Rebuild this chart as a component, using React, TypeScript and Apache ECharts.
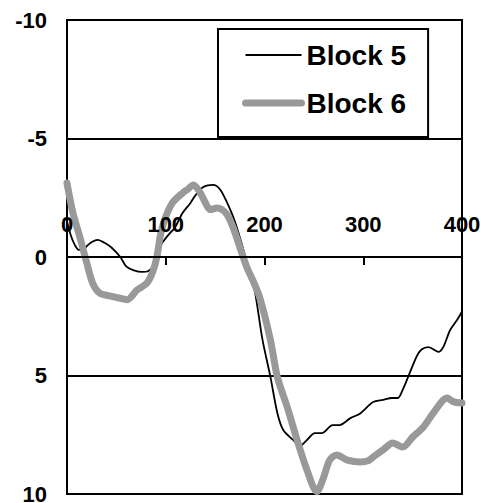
import React, { useEffect, useRef } from "react";
import * as echarts from "echarts";

const seriesNames = ["Block 5", "Block 6"];

const block5X = [0, 4, 8, 12, 17, 24, 31, 38, 45, 54, 60, 67, 76, 82, 87, 91, 97, 104, 109, 117, 125, 130, 138, 148, 155, 162, 170, 178, 184, 190, 198, 206, 213, 219, 229, 236, 243, 251, 258, 269, 276, 287, 297, 310, 320, 329, 335, 340, 347, 354, 359, 366, 376, 381, 388, 395, 400];
const block5Y = [-1.5, -0.9, -0.5, -0.3, -0.35, -0.6, -0.72, -0.6, -0.4, 0, 0.4, 0.55, 0.63, 0.6, 0.4, -0.2, -0.63, -1.0, -1.22, -1.86, -2.28, -2.6, -2.95, -3.04, -2.85, -2.3, -1.5, -0.4, 0.5, 1.4, 3.5, 5.06, 6.58, 7.3, 7.72, 7.97, 7.72, 7.43, 7.43, 7.09, 7.09, 6.8, 6.6, 6.12, 6.03, 5.95, 5.95, 5.6, 4.9, 4.2, 3.9, 3.8, 4.0, 3.8, 3.08, 2.66, 2.3];

const block6X = [0, 6, 13, 20, 26, 33, 44, 55, 61, 71, 81, 87, 91, 95, 100, 107, 117, 122, 128, 135, 140, 145, 152, 157, 162, 168, 175, 182, 188, 195, 206, 213, 223, 233, 243, 253, 259, 266, 273, 284, 297, 305, 310, 320, 330, 340, 350, 361, 371, 385, 391, 400];
const block6Y = [-3.12, -1.86, -0.84, 0.25, 1.1, 1.52, 1.65, 1.75, 1.8, 1.39, 1.1, 0.6, 0, -1.0, -1.7, -2.3, -2.7, -2.85, -3.04, -2.7, -2.3, -2.0, -2.07, -2.0, -1.8, -1.27, -0.42, 0.42, 0.97, 1.69, 3.5, 5.06, 6.33, 7.72, 8.99, 9.9, 9.4, 8.57, 8.35, 8.57, 8.65, 8.6, 8.44, 8.14, 7.85, 8.02, 7.6, 7.17, 6.58, 5.95, 6.1, 6.16];

const xTicks = { min: 0, max: 400, interval: 100 };
const yTicks = { min: -10, max: 10, interval: 5 };

const zip = (xs: number[], ys: number[]) => xs.map((x, i) => [x, ys[i]]);

const FONT = "Liberation Sans, Arial, sans-serif";

export default function App() {
  const ref = useRef<HTMLDivElement>(null);
  useEffect(() => {
    if (!ref.current) return;
    const chart = echarts.init(ref.current, undefined, { renderer: "svg" });
    chart.setOption({
      animation: false,
      backgroundColor: "#fff",
      grid: {
        left: 67,
        top: 20,
        right: 19,
        bottom: 9,
        show: true,
        borderColor: "#000",
        borderWidth: 2,
        containLabel: false,
        outerBoundsMode: "none",
      },
      legend: {
        orient: "vertical",
        left: 218,
        top: 29,
        padding: [12, 22, 20, 24],
        itemWidth: 56,
        itemHeight: 30,
        itemGap: 20,
        borderColor: "#000",
        borderWidth: 2,
        backgroundColor: "#fff",
        textStyle: { fontSize: 28, fontWeight: "bold", color: "#000", fontFamily: FONT },
        data: [
          { name: seriesNames[0], itemStyle: { opacity: 0 }, lineStyle: { width: 2, color: "#000" } },
          { name: seriesNames[1], itemStyle: { opacity: 0 }, lineStyle: { width: 7, color: "#999999", cap: "round" } },
        ],
      },
      xAxis: {
        type: "value",
        position: "bottom",
        z: 10,
        min: xTicks.min,
        max: xTicks.max,
        interval: xTicks.interval,
        axisLine: { show: true, onZero: true, lineStyle: { color: "#000", width: 2 } },
        axisTick: { show: true, inside: false, length: 8, lineStyle: { color: "#000", width: 2 } },
        axisLabel: { margin: -281, fontSize: 22, fontWeight: "bold", color: "#000", fontFamily: FONT },
        splitLine: { show: false },
      },
      yAxis: {
        type: "value",
        inverse: true,
        min: yTicks.min,
        max: yTicks.max,
        interval: yTicks.interval,
        axisLine: { show: true, onZero: false, lineStyle: { color: "#000", width: 2 } },
        axisTick: { show: false },
        axisLabel: { margin: 20, fontSize: 22, fontWeight: "bold", color: "#000", fontFamily: FONT },
        splitLine: { show: true, lineStyle: { color: "#000", width: 2 } },
      },
      series: [
        {
          name: seriesNames[0],
          type: "line",
          data: zip(block5X, block5Y),
          showSymbol: false,
          symbol: "none",
          smooth: 0.3,
          lineStyle: { color: "#000", width: 1.8 },
          itemStyle: { color: "#000" },
          z: 2,
        },
        {
          name: seriesNames[1],
          type: "line",
          data: zip(block6X, block6Y),
          showSymbol: false,
          symbol: "none",
          smooth: 0.3,
          lineStyle: { color: "#999999", width: 7, cap: "round", join: "round" },
          itemStyle: { color: "#999999" },
          z: 3,
        },
      ],
    });
    return () => chart.dispose();
  }, []);
  return <div ref={ref} style={{ width: 481, height: 503, position: "absolute", left: 0, top: 0 }} />;
}
